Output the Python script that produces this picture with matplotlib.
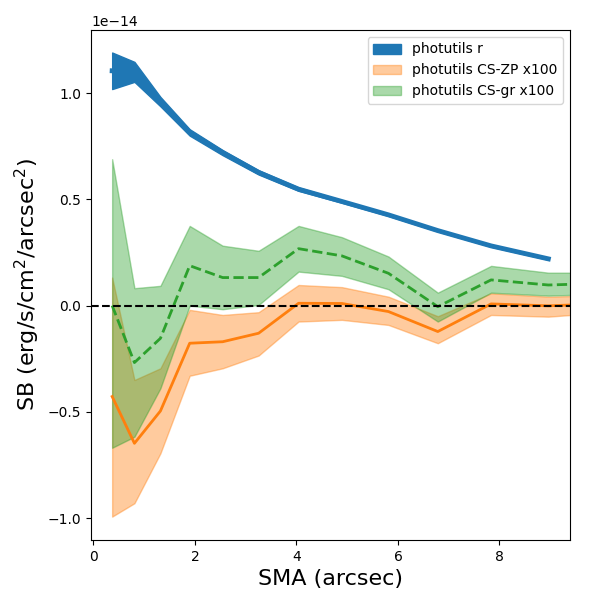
import numpy as np
import matplotlib
matplotlib.use("Agg")
import matplotlib.pyplot as plt

# SMA radii (arcsec)
sma = [0.368, 0.807, 1.319, 1.896, 2.545, 3.254, 4.041, 4.896, 5.813, 6.785, 7.835, 8.963, 10.2]

# photutils r-band profile (units of 1e-14)
sb_r = [1.105, 1.10, 0.96, 0.815, 0.72, 0.627, 0.548, 0.49, 0.427, 0.353, 0.281, 0.22]
err_r = [0.086, 0.047, 0.022, 0.015, 0.012, 0.010, 0.008, 0.006, 0.005, 0.004, 0.004, 0.004]

# CS-ZP (x100): centre, lower, upper
zp_mid = [-0.428, -0.648, -0.496, -0.177, -0.17, -0.13, 0.011, 0.01, -0.028, -0.122, 0.008, -0.001, 0.01]
zp_lo = [-0.993, -0.93, -0.695, -0.33, -0.295, -0.235, -0.075, -0.067, -0.091, -0.177, -0.044, -0.052, -0.03]
zp_hi = [0.132, -0.35, -0.295, -0.02, -0.044, -0.031, 0.097, 0.087, 0.042, -0.05, 0.058, 0.042, 0.05]

# CS-gr (x100): centre, lower, upper
gr_mid = [0.0, -0.268, -0.154, 0.188, 0.132, 0.132, 0.268, 0.234, 0.152, -0.005, 0.121, 0.097, 0.106]
gr_lo = [-0.669, -0.617, -0.389, 0.0, -0.017, 0.003, 0.16, 0.14, 0.077, -0.075, 0.061, 0.047, 0.056]
gr_hi = [0.689, 0.082, 0.093, 0.375, 0.282, 0.258, 0.375, 0.322, 0.231, 0.061, 0.187, 0.155, 0.155]

scale = 1e-14
x = np.array(sma)
xr = x[:len(sb_r)]
r = np.array(sb_r) * scale
er = np.array(err_r) * scale

fig, ax = plt.subplots(figsize=(6, 6), dpi=100)
fig.subplots_adjust(left=0.152, right=0.95, bottom=0.1, top=0.95)

ax.fill_between(xr, r - er, r + er, color="C0", label="photutils r")
ax.plot(xr, r, color="C0", lw=3.5)

ax.fill_between(x, np.array(zp_lo) * scale, np.array(zp_hi) * scale,
                color="C1", alpha=0.4, label="photutils CS-ZP x100")
ax.plot(x, np.array(zp_mid) * scale, color="C1", lw=2)

ax.fill_between(x, np.array(gr_lo) * scale, np.array(gr_hi) * scale,
                color="C2", alpha=0.4, label="photutils CS-gr x100")
ax.plot(x, np.array(gr_mid) * scale, color="C2", lw=2, ls="--")

ax.axhline(0, color="k", ls="--", lw=1.5)

ax.set_xlim(-0.045, 9.39)
ax.set_ylim(-1.103e-14, 1.297e-14)
ax.set_xlabel("SMA (arcsec)", fontsize=16)
ax.set_ylabel("SB (erg/s/cm$^2$/arcsec$^2$)", fontsize=16)
ax.legend(loc="upper right")

plt.savefig("out.png")
